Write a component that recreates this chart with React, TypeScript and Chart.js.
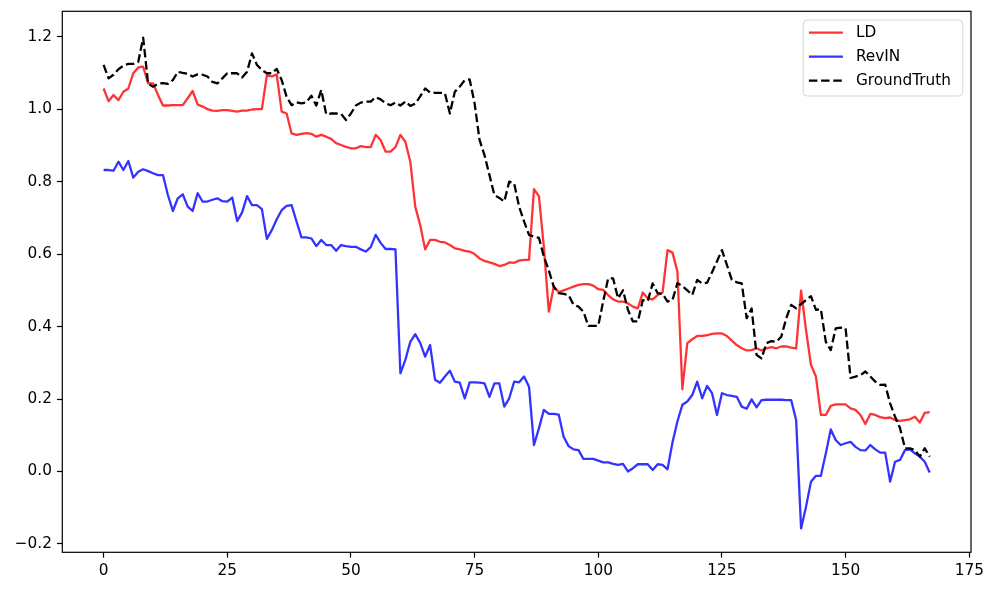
import React, { useEffect, useRef } from "react";
import { Chart, registerables } from "chart.js";

Chart.register(...registerables);

const xTickValues = [0, 25, 50, 75, 100, 125, 150, 175];
const yTickValues = [-0.2, 0.0, 0.2, 0.4, 0.6, 0.8, 1.0, 1.2];

const ldValues = [
  1.057, 1.022, 1.039, 1.025, 1.048, 1.057, 1.099, 1.115, 1.117, 1.071,
  1.071, 1.039, 1.010, 1.010, 1.011, 1.011, 1.011, 1.030, 1.050, 1.013,
  1.007, 1.000, 0.996, 0.995, 0.997, 0.997, 0.995, 0.993, 0.996, 0.996,
  0.999, 1.000, 1.000, 1.094, 1.090, 1.096, 0.993, 0.988, 0.933, 0.929,
  0.932, 0.934, 0.932, 0.924, 0.929, 0.924, 0.918, 0.906, 0.901, 0.896,
  0.892, 0.892, 0.898, 0.895, 0.895, 0.929, 0.915, 0.883, 0.883, 0.895,
  0.929, 0.910, 0.855, 0.731, 0.680, 0.613, 0.639, 0.639, 0.634, 0.632,
  0.625, 0.616, 0.613, 0.609, 0.607, 0.600, 0.588, 0.581, 0.577, 0.573,
  0.567, 0.570, 0.577, 0.576, 0.582, 0.584, 0.584, 0.779, 0.760, 0.620,
  0.441, 0.510, 0.495, 0.500, 0.505, 0.510, 0.515, 0.517, 0.517, 0.513,
  0.503, 0.501, 0.487, 0.475, 0.469, 0.469, 0.464, 0.455, 0.450, 0.494,
  0.478, 0.475, 0.487, 0.494, 0.611, 0.604, 0.552, 0.227, 0.354, 0.365,
  0.374, 0.374, 0.376, 0.380, 0.381, 0.381, 0.374, 0.361, 0.349, 0.340,
  0.334, 0.335, 0.340, 0.334, 0.340, 0.343, 0.340, 0.345, 0.345, 0.342,
  0.340, 0.499, 0.390, 0.294, 0.262, 0.156, 0.156, 0.181, 0.185, 0.185,
  0.185, 0.174, 0.170, 0.156, 0.131, 0.159, 0.156, 0.150, 0.147, 0.149,
  0.142, 0.140, 0.142, 0.144, 0.151, 0.135, 0.162, 0.164,
];

const revinValues = [
  0.832, 0.832, 0.830, 0.855, 0.832, 0.857, 0.811, 0.827, 0.834, 0.829,
  0.823, 0.818, 0.818, 0.763, 0.719, 0.754, 0.765, 0.731, 0.719, 0.768,
  0.745, 0.745, 0.750, 0.754, 0.746, 0.745, 0.756, 0.691, 0.715, 0.760,
  0.735, 0.735, 0.724, 0.642, 0.666, 0.696, 0.721, 0.733, 0.735, 0.690,
  0.646, 0.646, 0.643, 0.622, 0.639, 0.625, 0.625, 0.609, 0.625, 0.622,
  0.620, 0.620, 0.613, 0.607, 0.619, 0.653, 0.631, 0.614, 0.614, 0.613,
  0.271, 0.308, 0.358, 0.379, 0.355, 0.317, 0.349, 0.253, 0.245, 0.262,
  0.278, 0.248, 0.245, 0.202, 0.246, 0.246, 0.245, 0.243, 0.206, 0.243,
  0.243, 0.179, 0.202, 0.248, 0.246, 0.262, 0.234, 0.073, 0.119, 0.170,
  0.159, 0.159, 0.157, 0.096, 0.070, 0.061, 0.059, 0.035, 0.035, 0.035,
  0.030, 0.025, 0.025, 0.021, 0.018, 0.021, 0.000, 0.009, 0.020, 0.020,
  0.020, 0.004, 0.020, 0.018, 0.006, 0.080, 0.138, 0.184, 0.193, 0.211,
  0.248, 0.202, 0.236, 0.216, 0.156, 0.216, 0.211, 0.209, 0.206, 0.179,
  0.173, 0.199, 0.177, 0.197, 0.198, 0.198, 0.198, 0.198, 0.197, 0.197,
  0.142, -0.157, -0.097, -0.028, -0.012, -0.012, 0.050, 0.116, 0.087, 0.073,
  0.078, 0.082, 0.068, 0.059, 0.058, 0.073, 0.061, 0.052, 0.052, -0.028,
  0.027, 0.032, 0.059, 0.061, 0.050, 0.041, 0.027, -0.003,
];

const groundTruthValues = [
  1.122, 1.085, 1.095, 1.110, 1.120, 1.125, 1.125, 1.130, 1.197, 1.070,
  1.062, 1.070, 1.072, 1.070, 1.080, 1.103, 1.100, 1.098, 1.090, 1.096,
  1.095, 1.090, 1.075, 1.071, 1.085, 1.099, 1.099, 1.099, 1.087, 1.103,
  1.154, 1.122, 1.108, 1.099, 1.099, 1.111, 1.080, 1.034, 1.011, 1.019,
  1.016, 1.019, 1.037, 1.010, 1.053, 0.986, 0.988, 0.988, 0.987, 0.970,
  0.988, 1.010, 1.018, 1.021, 1.021, 1.033, 1.027, 1.016, 1.011, 1.018,
  1.010, 1.021, 1.009, 1.015, 1.035, 1.057, 1.046, 1.045, 1.045, 1.044,
  0.988, 1.048, 1.062, 1.080, 1.082, 1.016, 0.915, 0.873, 0.818, 0.763,
  0.755, 0.745, 0.800, 0.795, 0.731, 0.690, 0.653, 0.648, 0.645, 0.593,
  0.555, 0.510, 0.492, 0.490, 0.487, 0.460, 0.455, 0.441, 0.402, 0.402,
  0.402, 0.470, 0.533, 0.533, 0.478, 0.500, 0.446, 0.414, 0.414, 0.473,
  0.470, 0.519, 0.492, 0.490, 0.469, 0.473, 0.520, 0.512, 0.500, 0.487,
  0.529, 0.519, 0.521, 0.550, 0.580, 0.611, 0.570, 0.529, 0.522, 0.519,
  0.423, 0.450, 0.322, 0.312, 0.354, 0.360, 0.358, 0.372, 0.423, 0.460,
  0.450, 0.462, 0.473, 0.484, 0.446, 0.448, 0.358, 0.335, 0.395, 0.397,
  0.395, 0.258, 0.262, 0.266, 0.276, 0.262, 0.248, 0.239, 0.240, 0.188,
  0.151, 0.120, 0.064, 0.064, 0.059, 0.041, 0.064, 0.041,
];

const FONT = "'DejaVu Sans', sans-serif";
const FONT_SIZE = 15.3;
const LINE_W = 2.29;
const TICK_LEN = 5.35;

const toPoints = (vals: number[]) => vals.map((v, i) => ({ x: i, y: v }));

const framePlugin = {
  id: "frameAndLegend",
  afterDatasetsDraw(chart: any) {
    const { ctx, chartArea: a } = chart;
    ctx.save();
    ctx.strokeStyle = "#000";
    ctx.lineWidth = 1.2;
    ctx.setLineDash([]);
    ctx.strokeRect(a.left, a.top, a.right - a.left, a.bottom - a.top);

    // legend box (upper right)
    const w = 159.5;
    const h = 76;
    const bx = a.right - 8.3 - w;
    const by = a.top + 8.7;
    const r = 4;
    ctx.beginPath();
    ctx.moveTo(bx + r, by);
    ctx.lineTo(bx + w - r, by);
    ctx.quadraticCurveTo(bx + w, by, bx + w, by + r);
    ctx.lineTo(bx + w, by + h - r);
    ctx.quadraticCurveTo(bx + w, by + h, bx + w - r, by + h);
    ctx.lineTo(bx + r, by + h);
    ctx.quadraticCurveTo(bx, by + h, bx, by + h - r);
    ctx.lineTo(bx, by + r);
    ctx.quadraticCurveTo(bx, by, bx + r, by);
    ctx.closePath();
    ctx.fillStyle = "rgba(255,255,255,0.8)";
    ctx.fill();
    ctx.strokeStyle = "rgba(204,204,204,0.8)";
    ctx.lineWidth = 1;
    ctx.stroke();

    const ds = chart.data.datasets;
    [0, 1, 2].forEach((k, row) => {
      const d = ds[k];
      const cy = by + 12.7 + row * 24;
      ctx.beginPath();
      ctx.strokeStyle = d.borderColor;
      ctx.lineWidth = d.borderWidth;
      ctx.setLineDash(d.borderDash || []);
      ctx.moveTo(bx + 5.7, cy);
      ctx.lineTo(bx + 39.7, cy);
      ctx.stroke();
      ctx.setLineDash([]);
      ctx.fillStyle = "#000";
      ctx.font = `${FONT_SIZE}px ${FONT}`;
      ctx.textBaseline = "middle";
      ctx.textAlign = "left";
      ctx.fillText(d.label, bx + 52.7, cy + 0.5);
    });
    ctx.restore();
  },
};

export default function App() {
  const ref = useRef<HTMLCanvasElement | null>(null);

  useEffect(() => {
    if (!ref.current) return;
    Chart.defaults.font.family = FONT;
    Chart.defaults.font.size = FONT_SIZE;
    Chart.defaults.color = "#000";

    const tickGrid = {
      drawOnChartArea: false,
      drawTicks: true,
      tickLength: TICK_LEN,
      tickWidth: 1.2,
      tickColor: "#000",
    };

    const chart = new Chart(ref.current, {
      type: "line",
      data: {
        datasets: [
          {
            label: "LD",
            data: toPoints(ldValues),
            borderColor: "rgba(255,0,0,0.8)",
            borderWidth: LINE_W,
            pointRadius: 0,
            tension: 0,
            borderJoinStyle: "round",
            order: 2,
          },
          {
            label: "RevIN",
            data: toPoints(revinValues),
            borderColor: "rgba(0,0,255,0.8)",
            borderWidth: LINE_W,
            pointRadius: 0,
            tension: 0,
            borderJoinStyle: "round",
            order: 1,
          },
          {
            label: "GroundTruth",
            data: toPoints(groundTruthValues),
            borderColor: "#000",
            borderWidth: LINE_W,
            borderDash: [8.5, 3.7],
            pointRadius: 0,
            tension: 0,
            borderJoinStyle: "round",
            order: 0,
          },
        ],
      },
      options: {
        animation: false,
        responsive: false,
        devicePixelRatio: 1,
        layout: { padding: { left: 0, top: 11.3, right: 26, bottom: 0 } },
        plugins: {
          legend: { display: false },
          tooltip: { enabled: false },
        },
        scales: {
          x: {
            type: "linear",
            min: -8.35,
            max: 175.35,
            afterBuildTicks: (scale: any) => {
              scale.ticks = xTickValues.map((v) => ({ value: v }));
            },
            afterFit: (scale: any) => {
              scale.height = 39.7;
            },
            ticks: {
              padding: 4,
              maxRotation: 0,
              autoSkip: false,
              font: { size: FONT_SIZE, family: FONT },
              color: "#000",
              callback: (v: any) => String(v),
            },
            grid: tickGrid,
            border: { display: false },
          },
          y: {
            type: "linear",
            min: -0.223,
            max: 1.27,
            afterBuildTicks: (scale: any) => {
              scale.ticks = yTickValues.map((v) => ({ value: v }));
            },
            afterFit: (scale: any) => {
              scale.width = 62.3;
            },
            ticks: {
              padding: 5,
              autoSkip: false,
              font: { size: FONT_SIZE, family: FONT, lineHeight: 0.75 },
              color: "#000",
              callback: (v: any) => Number(v).toFixed(1).replace("-", "\u2212"),
            },
            grid: tickGrid,
            border: { display: false },
          },
        },
      },
      plugins: [framePlugin],
    } as any);

    return () => chart.destroy();
  }, []);

  return (
    <div style={{ position: "fixed", left: 0, top: 0, width: 997, height: 592, background: "#fff" }}>
      <canvas ref={ref} width={997} height={592} style={{ display: "block", width: 997, height: 592 }} />
    </div>
  );
}
